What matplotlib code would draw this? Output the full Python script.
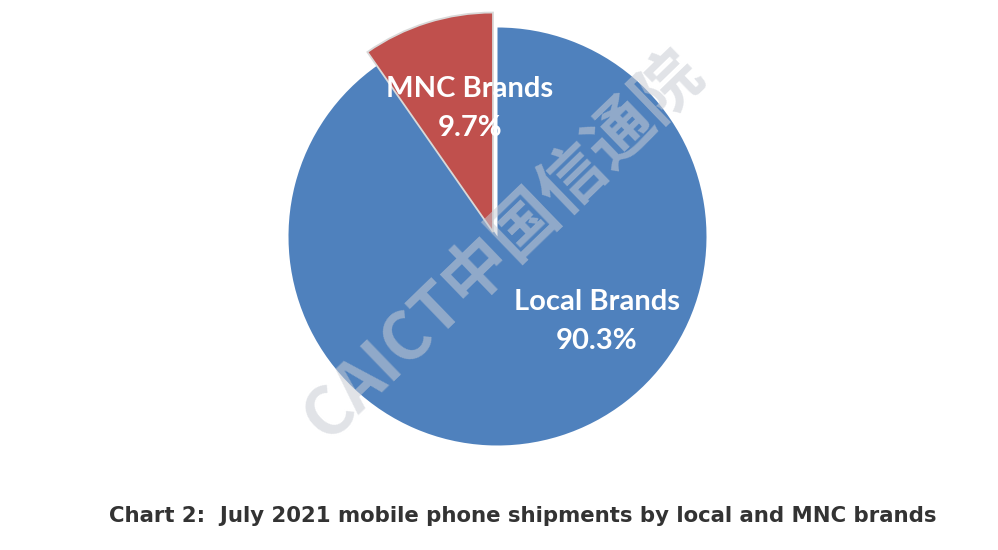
import matplotlib
matplotlib.use("Agg")
import matplotlib.pyplot as plt

categories = ["Local Brands", "MNC Brands"]
shares = [90.3, 9.7]
colors = ["#4F81BD", "#C0504D"]
title = "Chart 2:  July 2021 mobile phone shipments by local and MNC brands"
watermark = "CAICT中国信通院"

W, H = 998, 550
fig = plt.figure(figsize=(W / 100, H / 100), dpi=100)
ax = fig.add_axes([0, 0, 1, 1])

cx, cy, R = 497.5, 550 - 236.5, 209
wedges, _ = ax.pie(shares, colors=colors, startangle=90, counterclock=False,
                   center=(cx, cy), radius=R,
                   wedgeprops=dict(edgecolor="#D9D9D9", linewidth=1.3))
wedges[0].set_edgecolor("none")
wedges[1].set_radius(R * 1.05)
wedges[1].set_center((cx - 4.5, cy + 4.5))

ax.set_xlim(0, W)
ax.set_ylim(0, H)
ax.set_aspect("equal")
ax.axis("off")

lab_font = dict(color="white", fontsize=21, fontweight="bold", family=["Lato", "DejaVu Sans"],
                ha="center", va="center")
ax.text(470, H - 89, categories[1], **lab_font)
ax.text(470, H - 128, f"{shares[1]:.1f}%", **lab_font)
ax.text(597, H - 302, categories[0], **lab_font)
ax.text(597, H - 341, f"{shares[0]:.1f}%", **lab_font)

ax.text(503, H - 245, watermark, fontsize=48, fontweight="heavy", rotation=44,
        color="#C8CCD4", alpha=0.55, ha="center", va="center",
        family=["Noto Sans CJK SC", "DejaVu Sans"], zorder=5)

fig.text(523 / W, 1 - 516 / H, title, fontsize=15.3, fontweight="bold", color="#333333",
         ha="center", va="center", family=["DejaVu Sans"])

fig.savefig("out.png", dpi=100, facecolor="white")
